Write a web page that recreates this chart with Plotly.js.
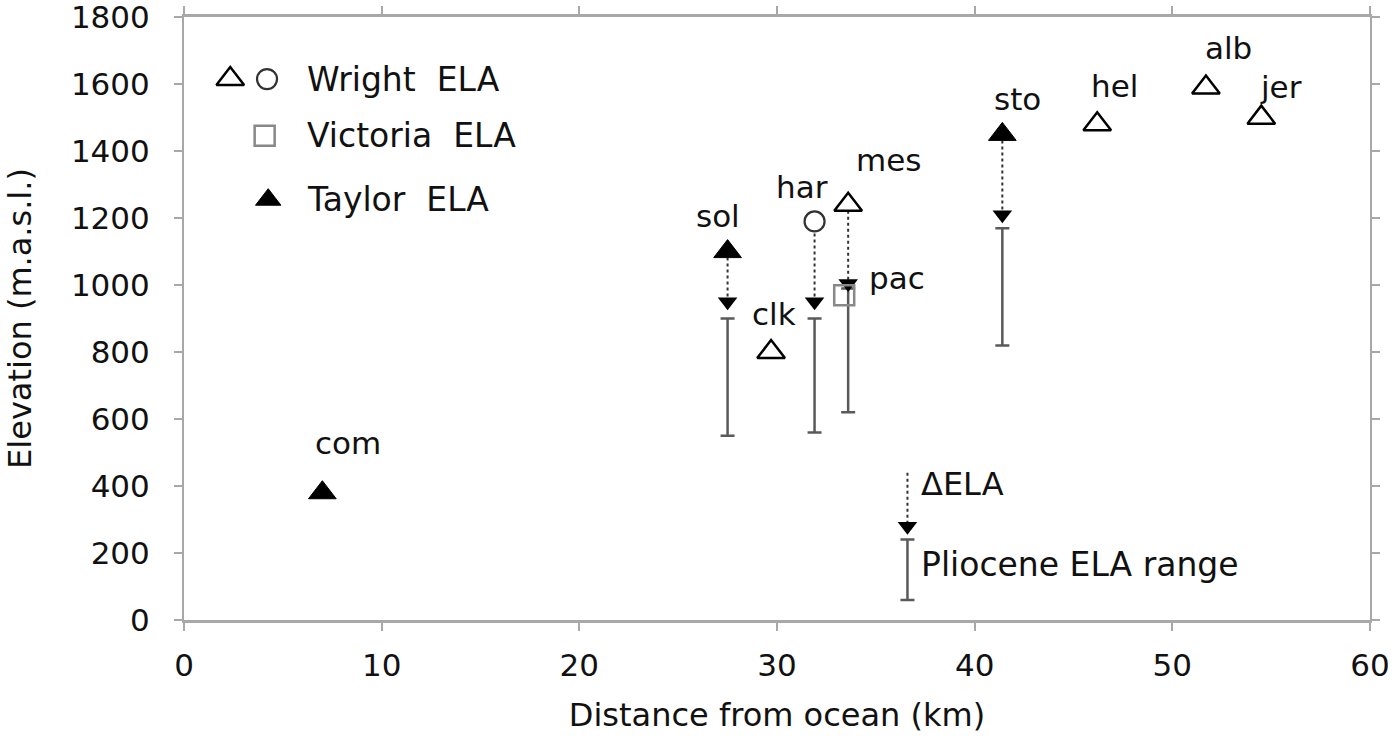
<!DOCTYPE html>
<html><head><meta charset="utf-8">
<script src="https://cdn.plot.ly/plotly-3.0.1.min.js"></script>
<style>html,body{margin:0;padding:0;background:#fff}#chart{width:1400px;height:745px}</style>
</head><body><div id="chart"></div>
<script>
// ---- data ----
const taylorNames = ['com', 'sol', 'sto'];
const taylorX = [7.0, 27.5, 41.4];
const taylorY = [380, 1100, 1450];

const wrightTriNames = ['clk', 'mes', 'hel', 'alb', 'jer'];
const wrightTriX = [29.7, 33.6, 46.2, 51.7, 54.5];
const wrightTriY = [800, 1240, 1480, 1590, 1500];

const wrightCircNames = ['har'];
const wrightCircX = [31.9];
const wrightCircY = [1190];

const victoriaNames = ['pac'];
const victoriaX = [33.4];
const victoriaY = [970];

// Delta ELA arrows and Pliocene ELA ranges
const deltaSites = ['sol', 'har', 'mes', 'sto'];
const deltaX = [27.5, 31.9, 33.6, 41.4];
const deltaFrom = [1100, 1190, 1240, 1450];
const deltaTo = [950, 950, 1005, 1210];
const plioHigh = [900, 900, 990, 1170];
const plioLow = [550, 560, 620, 820];

// key example
const keyX = [36.6];
const keyFrom = [440];
const keyTo = [280];
const keyHigh = [240];
const keyLow = [60];

const xTicks = [0, 10, 20, 30, 40, 50, 60];
const yTicks = [0, 200, 400, 600, 800, 1000, 1200, 1400, 1600, 1800];

// ---- styles / label offsets (pixels) ----
const labelShift = {
  com: [26, 50], sol: [-10, 36], clk: [3, 38], har: [-13, 34], mes: [40, 45],
  pac: [53, 17], sto: [15, 35], hel: [17, 38], alb: [23, 40], jer: [20, 31]
};
const FONT = 'DejaVu Sans, Arial, sans-serif';
const AXC = '#a8a8a8';

function segs(xs, a, b) {
  const X = [], Y = [];
  xs.forEach((x, i) => { X.push(x, x, null); Y.push(a[i], b[i], null); });
  return {X, Y};
}

const allX = deltaX.concat(keyX);
const allHigh = plioHigh.concat(keyHigh);
const allLow = plioLow.concat(keyLow);

const traces = [];
// Pliocene ranges
traces.push({
  x: allX, y: allHigh, type: 'scatter', mode: 'markers',
  marker: {size: 1, color: 'rgba(0,0,0,0)'}, hoverinfo: 'skip', showlegend: false,
  error_y: {type: 'data', symmetric: false,
    array: allHigh.map(() => 0),
    arrayminus: allHigh.map((h, i) => h - allLow[i]),
    color: '#5a5a5a', thickness: 2.5, width: 7}
});
// Delta ELA dotted arrows
const dS = segs(allX, deltaFrom.concat(keyFrom), deltaTo.concat(keyTo));
traces.push({x: dS.X, y: dS.Y, type: 'scatter', mode: 'lines', hoverinfo: 'skip', showlegend: false,
  line: {color: '#333', width: 2, dash: 'dot'}});
traces.push({x: allX, y: deltaTo.concat(keyTo), type: 'scatter', mode: 'markers',
  hoverinfo: 'skip', showlegend: false,
  marker: {symbol: 'triangle-down', size: 17, color: '#000'}});
// Victoria
traces.push({x: victoriaX, y: victoriaY, type: 'scatter', mode: 'markers', showlegend: false,
  marker: {symbol: 'square-open', size: 20, color: '#888', line: {width: 2.5}}});
// Wright triangles
traces.push({x: wrightTriX, y: wrightTriY, type: 'scatter', mode: 'markers', showlegend: false,
  marker: {symbol: 'triangle-up', size: 24, color: '#fff', line: {color: '#000', width: 2.5}}});
// Wright circle
traces.push({x: wrightCircX, y: wrightCircY, type: 'scatter', mode: 'markers', showlegend: false,
  marker: {symbol: 'circle', size: 20, color: '#fff', line: {color: '#333', width: 2.2}}});
// Taylor
traces.push({x: taylorX, y: taylorY, type: 'scatter', mode: 'markers', showlegend: false,
  marker: {symbol: 'triangle-up', size: 24, color: '#000', line: {color: '#000', width: 1}}});

// Legend key markers in an overlay (plot-area fraction) axis
const legendKeys = [
  {x: 0.039, y: 0.897, marker: {symbol: 'triangle-up', size: 24, color: '#fff', line: {color: '#000', width: 2.5}}},
  {x: 0.070, y: 0.897, marker: {symbol: 'circle', size: 20, color: '#fff', line: {color: '#333', width: 2.2}}},
  {x: 0.068, y: 0.803, marker: {symbol: 'square-open', size: 20, color: '#888', line: {width: 2.5}}},
  {x: 0.071, y: 0.697, marker: {symbol: 'triangle-up', size: 22, color: '#000', line: {color: '#000', width: 1}}}
];
legendKeys.forEach(k => traces.push({x: [k.x], y: [k.y], xaxis: 'x2', yaxis: 'y2', type: 'scatter',
  mode: 'markers', hoverinfo: 'skip', showlegend: false, marker: k.marker}));

const annotations = [];
function addLabels(names, xs, ys) {
  names.forEach((n, i) => {
    const s = labelShift[n] || [0, 30];
    annotations.push({x: xs[i], y: ys[i], text: n, showarrow: false, xshift: s[0], yshift: s[1],
      font: {family: FONT, size: 31, color: '#111'}});
  });
}
addLabels(taylorNames, taylorX, taylorY);
addLabels(wrightTriNames, wrightTriX, wrightTriY);
addLabels(wrightCircNames, wrightCircX, wrightCircY);
addLabels(victoriaNames, victoriaX, victoriaY);

const legTexts = ['Wright  ELA', 'Victoria  ELA', 'Taylor  ELA'];
const legTY = [0.897, 0.803, 0.697];
legTexts.forEach((t, i) => annotations.push({xref: 'paper', yref: 'paper', x: 0.102, y: legTY[i],
  xanchor: 'left', yanchor: 'middle', text: t, showarrow: false,
  font: {family: FONT, size: 33, color: '#111'}}));

annotations.push({x: keyX[0], y: keyTo[0], text: 'ΔELA', showarrow: false, xanchor: 'left',
  yanchor: 'middle', xshift: 12, yshift: 42, font: {family: FONT, size: 32, color: '#111'}});
annotations.push({x: keyX[0], y: keyTo[0], text: 'Pliocene ELA range', showarrow: false, xanchor: 'left',
  yanchor: 'middle', xshift: 12, yshift: -38, font: {family: FONT, size: 33, color: '#111'}});

const layout = {
  width: 1400, height: 745,
  margin: {l: 184, r: 30, t: 17, b: 125},
  paper_bgcolor: '#fff', plot_bgcolor: '#fff',
  showlegend: false,
  font: {family: FONT, size: 30, color: '#111'},
  xaxis: {range: [0, 60], tickvals: xTicks, ticktext: xTicks.map(String), showgrid: false, zeroline: false,
    showline: true, linecolor: AXC, linewidth: 3, mirror: 'ticks', ticks: 'outside', ticklen: 8,
    tickcolor: AXC, tickwidth: 2, ticklabelstandoff: 8, ticklabeloverflow: 'allow',
    tickfont: {family: FONT, size: 31, color: '#111'},
    title: {text: 'Distance from ocean (km)', font: {family: FONT, size: 32, color: '#111'}, standoff: 22}},
  yaxis: {range: [0, 1800.5], tickvals: yTicks, ticktext: yTicks.map(String), showgrid: false, zeroline: false,
    showline: true, linecolor: AXC, linewidth: 2, mirror: 'ticks', ticks: 'outside', ticklen: 8,
    tickcolor: AXC, tickwidth: 2, ticklabelstandoff: 18, ticklabeloverflow: 'allow',
    tickfont: {family: FONT, size: 31, color: '#111'},
    title: {text: 'Elevation (m.a.s.l.)', font: {family: FONT, size: 32, color: '#111'}, standoff: 30}},
  xaxis2: {overlaying: 'x', anchor: 'y2', range: [0, 1], visible: false, fixedrange: true},
  yaxis2: {overlaying: 'y', anchor: 'x2', range: [0, 1], visible: false, fixedrange: true},
  annotations: annotations
};

Plotly.newPlot('chart', traces, layout, {displayModeBar: false, staticPlot: true});
</script></body></html>
